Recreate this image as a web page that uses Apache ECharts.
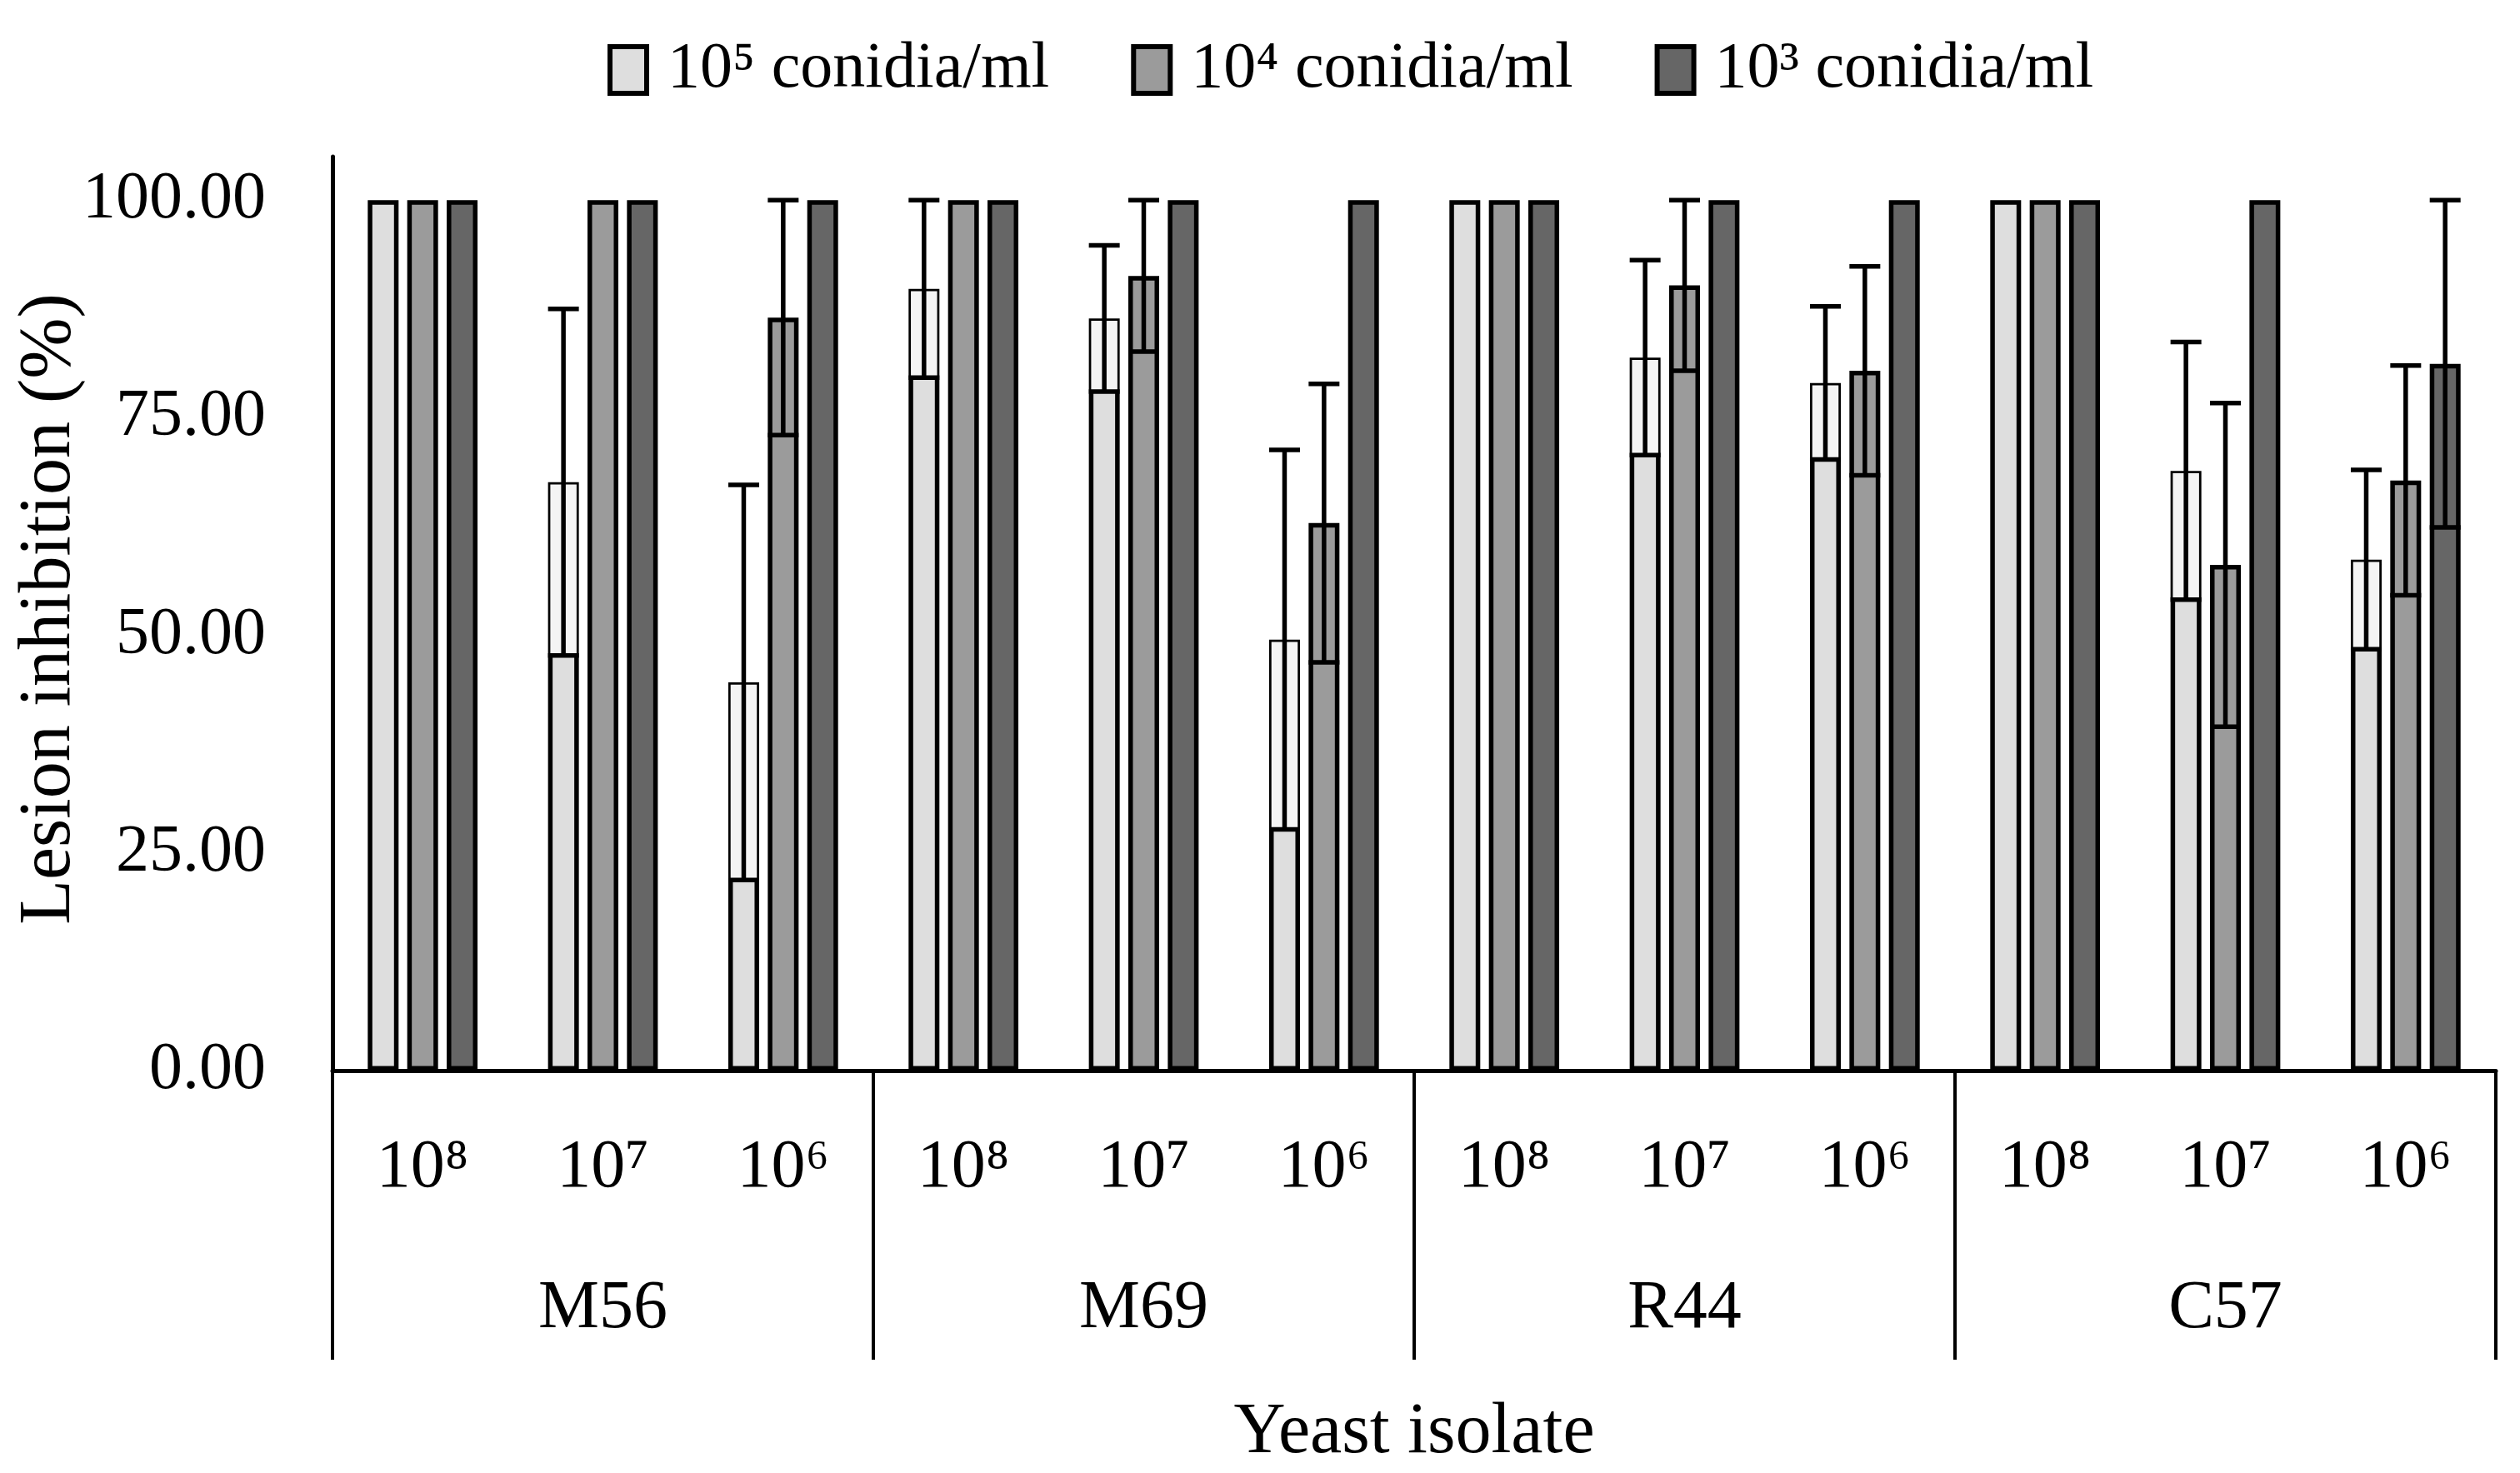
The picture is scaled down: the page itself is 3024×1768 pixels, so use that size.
<!DOCTYPE html>
<html>
<head>
<meta charset="utf-8">
<script src="https://cdn.jsdelivr.net/npm/echarts@6/dist/echarts.min.js"></script>
<style>
  html, body { margin: 0; padding: 0; background: #ffffff; }
  #chart { width: 3024px; height: 1768px; }
</style>
</head>
<body>
<div id="chart"></div>
<script>
// ---- data ----
const subCategories = ['10⁸','10⁷','10⁶','10⁸','10⁷','10⁶','10⁸','10⁷','10⁶','10⁸','10⁷','10⁶'];
const groups = ['M56','M69','R44','C57'];
const seriesNames = ['10⁵ conidia/ml','10⁴ conidia/ml','10³ conidia/ml'];
const mean1e5 = [100, 67.6, 44.6, 89.8, 86.4, 49.5, 100, 81.9, 79.0, 100, 68.9, 58.7];
const sd1e5   = [0,   19.9, 22.7, 10.2, 8.4,  21.8, 0,   11.2, 8.8,  0,   14.8, 10.3];
const mean1e4 = [100, 100, 86.5, 100, 91.3, 62.9, 100, 90.2, 80.4, 100, 58.1, 67.8];
const sd1e4   = [0,   0,   13.5, 0,   8.7,  16.0, 0,   9.8,  12.0, 0,   18.6, 13.2];
const mean1e3 = [100, 100, 100, 100, 100, 100, 100, 100, 100, 100, 100, 81.2];
const sd1e3   = [0,   0,   0,   0,   0,   0,   0,   0,   0,   0,   0,   18.8];
const yTicks = [0, 25, 50, 75, 100];

// ---- styles ----
const FONT = "'Liberation Serif', 'DejaVu Serif', serif";
const colors = ['#dedede', '#9b9b9b', '#666666'];
const boxFill = ['#f4f4f4', null, null];
const BAR_W = 37;
const BAR_GAP = 0.28;

const means = [mean1e5, mean1e4, mean1e3];
const sds = [sd1e5, sd1e4, sd1e3];

const barSeries = seriesNames.map((name, s) => ({
  name: name,
  type: 'bar',
  xAxisIndex: 0,
  yAxisIndex: 0,
  barWidth: BAR_W,
  barGap: (BAR_GAP * 100) + '%',
  itemStyle: { color: colors[s], borderColor: '#000000', borderWidth: 5.5 },
  data: means[s],
  z: 2
}));

const errSeries = seriesNames.map((name, s) => ({
  type: 'custom',
  xAxisIndex: 0,
  yAxisIndex: 0,
  z: 5,
  silent: true,
  data: means[s].map((m, i) => [i, m, sds[s][i]]),
  renderItem: function (params, api) {
    const xi = api.value(0), m = api.value(1), sd = api.value(2);
    if (!sd) return null;
    const c = api.coord([xi, m]);
    const x = c[0] + (s - 1) * BAR_W * (1 + BAR_GAP);
    const yTop = api.coord([xi, m + sd])[1];
    const yBot = api.coord([xi, Math.max(0, m - sd)])[1];
    const yM = c[1];
    const half = BAR_W / 2;
    const ls = { stroke: '#000000', lineWidth: 5.5 };
    const children = [];
    if (boxFill[s]) {
      children.push({ type: 'rect', shape: { x: x - half + 2.75, y: yM + 2.75, width: BAR_W - 5.5, height: yBot - yM - 2.75 }, style: { fill: boxFill[s] } });
    }
    children.push({ type: 'line', shape: { x1: x, y1: yTop, x2: x, y2: yBot }, style: ls });
    children.push({ type: 'line', shape: { x1: x - half, y1: yTop, x2: x + half, y2: yTop }, style: ls });
    children.push({ type: 'line', shape: { x1: x - half, y1: yBot, x2: x + half, y2: yBot }, style: ls });
    return { type: 'group', children: children };
  }
}));

const chart = echarts.init(document.getElementById('chart'), null, { renderer: 'canvas' });
chart.setOption({
  backgroundColor: '#ffffff',
  animation: false,
  textStyle: { fontFamily: FONT, color: '#000000' },
  legend: {
    data: seriesNames,
    left: 724,
    top: 40,
    itemWidth: 44,
    itemHeight: 56,
    itemGap: 98,
    icon: 'rect',
    itemStyle: { borderColor: '#000000', borderWidth: 6 },
    textStyle: { fontFamily: FONT, fontSize: 78, color: '#000000', padding: [0, 0, 0, 20] }
  },
  grid: { left: 399, right: 29, top: 188, bottom: 482, containLabel: false },
  xAxis: [
    {
      type: 'category',
      data: subCategories,
      position: 'bottom',
      axisLine: { show: true, lineStyle: { color: '#000000', width: 5 } },
      axisTick: { show: false },
      axisLabel: { fontFamily: FONT, fontSize: 82, color: '#000000', margin: 76, interval: 0 },
      name: 'Yeast isolate',
      nameLocation: 'middle',
      nameGap: 392,
      nameTextStyle: { fontFamily: FONT, fontSize: 86, color: '#000000' }
    },
    {
      type: 'category',
      data: groups,
      position: 'bottom',
      gridIndex: 0,
      axisLine: { show: false },
      axisTick: { show: true, length: 347, lineStyle: { color: '#000000', width: 4 } },
      axisLabel: { fontFamily: FONT, fontSize: 82, color: '#000000', margin: 245, interval: 0 }
    }
  ],
  yAxis: {
    type: 'value',
    min: 0,
    max: 105,
    interval: 25,
    axisLine: { show: true, lineStyle: { color: '#000000', width: 5 } },
    axisTick: { show: false },
    splitLine: { show: false },
    axisLabel: {
      fontFamily: FONT, fontSize: 80, color: '#000000', margin: 80,
      showMaxLabel: false,
      formatter: function (v) { return yTicks.indexOf(v) >= 0 ? v.toFixed(2) : ''; }
    }
  },
  graphic: [
    {
      type: 'text',
      x: 60,
      y: 731,
      rotation: Math.PI / 2,
      style: { text: 'Lesion inhibition (%)', font: "88px 'Liberation Serif', serif", fill: '#000000', align: 'center', verticalAlign: 'middle' }
    }
  ],
  series: barSeries.concat(errSeries)
});
</script>
</body>
</html>
